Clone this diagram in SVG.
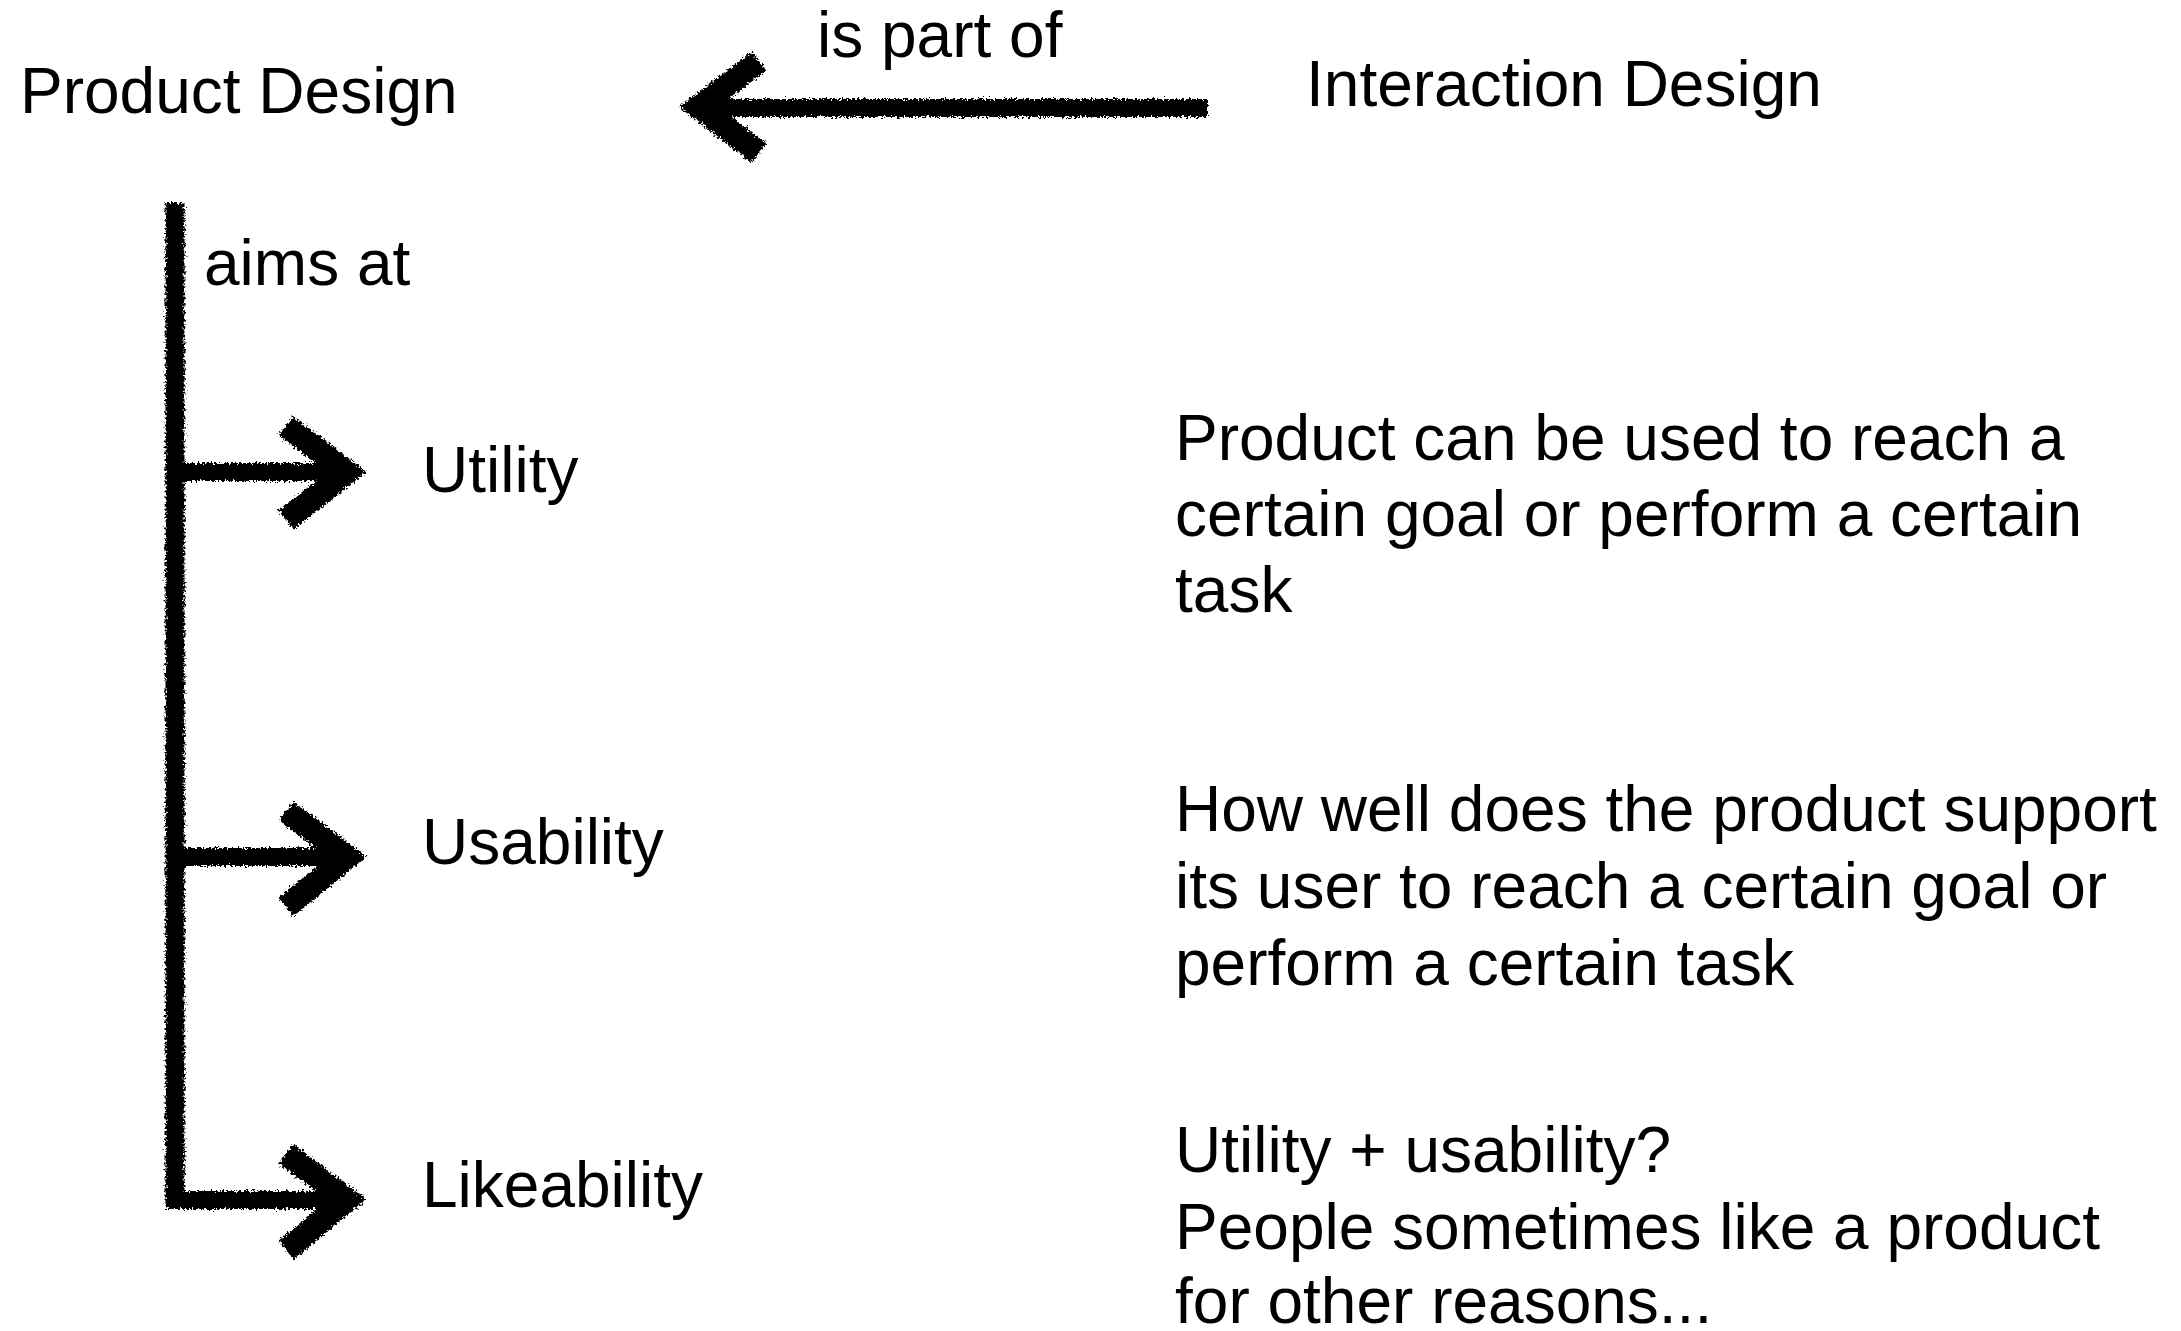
<svg xmlns="http://www.w3.org/2000/svg" width="2181" height="1331" viewBox="0 0 2181 1331">
<style>
text{font-family:"Liberation Sans",Arial,sans-serif;font-size:64px;fill:#000}
.stroke{fill:none;stroke:#000;stroke-width:18;stroke-linecap:butt;stroke-linejoin:miter}
.vstroke{fill:none;stroke:#000;stroke-width:19;stroke-linecap:butt}
.head{fill:none;stroke:#000;stroke-width:24;stroke-linecap:butt;stroke-linejoin:miter;stroke-miterlimit:4}
</style>
<defs>
<filter id="rough" filterUnits="userSpaceOnUse" x="0" y="0" width="2181" height="1331">
<feTurbulence type="fractalNoise" baseFrequency="0.45" numOctaves="3" seed="7" result="n"/>
<feDisplacementMap in="SourceGraphic" in2="n" scale="8" xChannelSelector="R" yChannelSelector="G" result="d"/>
<feGaussianBlur in="d" stdDeviation="0.7"/>
</filter>
</defs>
<rect width="2181" height="1331" fill="#fff"/>
<g id="connectors" filter="url(#rough)">
<g id="is-part-of">
<path class="stroke" d="M1208 108 L700 108"/>
<path class="head" d="M759 61 L699 107 L759 153"/>
</g>
<g id="aims-at">
<path class="vstroke" d="M175 203 L175 1208"/>
<path class="stroke" d="M168 472 L355 472"/>
<path class="head" d="M286 426 L347 472 L286 520"/>
<path class="stroke" d="M168 857 L355 857"/>
<path class="head" d="M286 811 L347 857 L286 907"/>
<path class="stroke" d="M168 1200 L355 1200"/>
<path class="head" d="M286 1154 L347 1200 L286 1250"/>
</g>
</g>
<g id="labels">
<text x="817" y="57">is part of</text>
<text x="204" y="285">aims at</text>
</g>
<g id="product-design"><text x="20" y="113">Product Design</text></g>
<g id="interaction-design"><text x="1306" y="106">Interaction Design</text></g>
<g id="utility"><text x="422" y="492">Utility</text></g>
<g id="usability"><text x="422" y="864">Usability</text></g>
<g id="likeability"><text x="422" y="1207">Likeability</text></g>
<g id="utility-desc">
<text x="1175" y="460">Product can be used to reach a</text>
<text x="1175" y="536">certain goal or perform a certain</text>
<text x="1175" y="612">task</text>
</g>
<g id="usability-desc">
<text x="1175" y="831">How well does the product support</text>
<text x="1175" y="908">its user to reach a certain goal or</text>
<text x="1175" y="985">perform a certain task</text>
</g>
<g id="likeability-desc">
<text x="1175" y="1172">Utility + usability?</text>
<text x="1175" y="1249">People sometimes like a product</text>
<text x="1175" y="1323">for other reasons...</text>
</g>
</svg>
